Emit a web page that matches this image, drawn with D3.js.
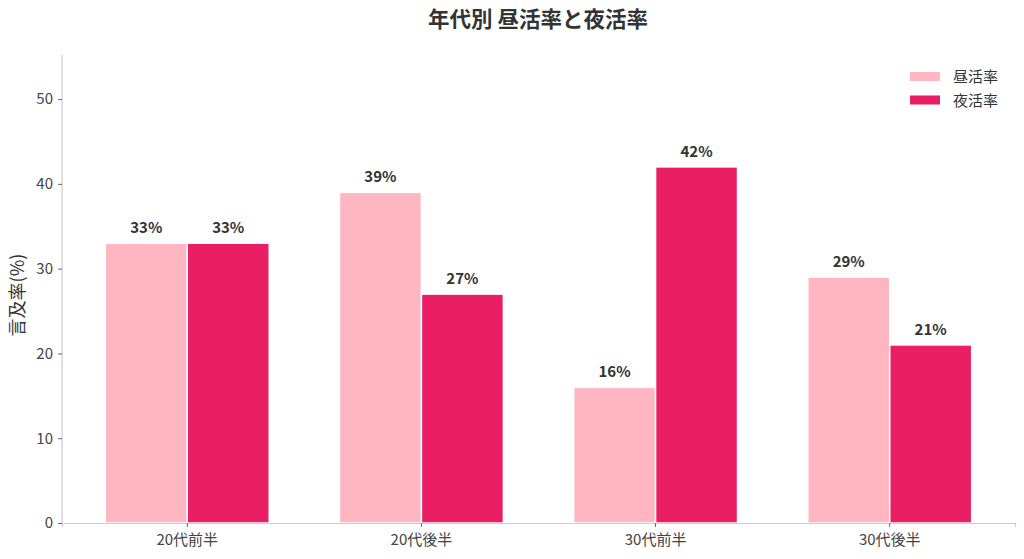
<!DOCTYPE html>
<html>
<head>
<meta charset="utf-8">
<script src="https://cdn.jsdelivr.net/npm/d3@7"></script>
<style>
  body { margin: 0; background: #fff; }
  svg text { font-family: "Noto Sans CJK JP", "Noto Sans", sans-serif; }
</style>
</head>
<body>
<div id="chart"></div>
<script>
// data
const categories = ['20代前半', '20代後半', '30代前半', '30代後半']
const seriesNames = ['昼活率', '夜活率']
const dayRate = [33, 39, 16, 29]
const nightRate = [33, 27, 42, 21]
const yTicks = [0, 10, 20, 30, 40, 50]
const colors = ['#FFB6C1', '#E91E63']

const width = 1024
const height = 559
const margin = { top: 55, right: 9, bottom: 36, left: 62 }

const svg = d3.select('#chart').append('svg')
  .attr('width', width)
  .attr('height', height)

// x: one band per age group, two sub bands inside
const x = d3.scaleBand()
  .domain(categories)
  .range([margin.left, width - margin.right])
  .paddingInner(0.3)
  .paddingOuter(0.185)

const xSub = d3.scaleBand()
  .domain(seriesNames)
  .range([0, x.bandwidth()])

const y = d3.scaleLinear()
  .domain([0, 55.2])
  .range([height - margin.bottom, margin.top])

const rows = categories.map((c, i) => ({ cat: c, values: [dayRate[i], nightRate[i]] }))

// bars
const groups = svg.append('g').selectAll('g')
  .data(rows)
  .join('g')
  .attr('transform', d => 'translate(' + x(d.cat) + ',0)')

groups.selectAll('rect')
  .data(d => d.values.map((v, k) => ({ name: seriesNames[k], value: v, k: k })))
  .join('rect')
  .attr('x', d => xSub(d.name))
  .attr('y', d => y(d.value))
  .attr('width', xSub.bandwidth())
  .attr('height', d => y(0) - y(d.value))
  .attr('fill', d => colors[d.k])
  .attr('stroke', '#fff')
  .attr('stroke-width', 1.5)

// value labels
groups.selectAll('text')
  .data(d => d.values.map((v, k) => ({ name: seriesNames[k], value: v })))
  .join('text')
  .attr('x', d => xSub(d.name) + xSub.bandwidth() / 2)
  .attr('y', d => y(d.value) - 10)
  .attr('text-anchor', 'middle')
  .attr('font-size', 15)
  .attr('font-weight', 'bold')
  .attr('fill', '#333')
  .text(d => d.value + '%')

// axes
const xAxis = svg.append('g')
  .attr('transform', 'translate(0,' + y(0) + ')')
  .call(d3.axisBottom(x).tickSizeOuter(0).tickSize(4).tickPadding(7))
const yAxis = svg.append('g')
  .attr('transform', 'translate(' + margin.left + ',0)')
  .call(d3.axisLeft(y).tickValues(yTicks).tickSizeOuter(0).tickSize(4).tickPadding(5))

;[xAxis, yAxis].forEach(a => {
  a.select('.domain').attr('stroke', '#ccc').attr('stroke-width', 1.2)
  a.selectAll('.tick line').attr('stroke', '#666')
  a.selectAll('.tick text').attr('font-size', 15).attr('fill', '#444')
    .attr('font-family', '"Noto Sans CJK JP", sans-serif')
})
// stretch the y spine to the top of the plot
yAxis.select('.domain').attr('d', 'M0,' + y(0) + 'V' + margin.top)

// y label
svg.append('text')
  .attr('transform', 'translate(24,' + 295 + ') rotate(-90)')
  .attr('text-anchor', 'middle')
  .attr('font-size', 18)
  .attr('fill', '#333')
  .text('言及率(%)')

// title
svg.append('text')
  .attr('x', width / 2 + 26)
  .attr('y', 27)
  .attr('text-anchor', 'middle')
  .attr('font-size', 21.5)
  .attr('font-weight', 'bold')
  .attr('fill', '#333')
  .text('年代別 昼活率と夜活率')

// legend
const legend = svg.append('g').attr('transform', 'translate(910,72)')
const items = legend.selectAll('g')
  .data(seriesNames)
  .join('g')
  .attr('transform', (d, i) => 'translate(0,' + (i * 23.5) + ')')
items.append('rect')
  .attr('width', 30).attr('height', 9)
  .attr('fill', (d, i) => colors[i])
items.append('text')
  .attr('x', 43).attr('y', 10)
  .attr('font-size', 15)
  .attr('fill', '#333')
  .text(d => d)
</script>
</body>
</html>
